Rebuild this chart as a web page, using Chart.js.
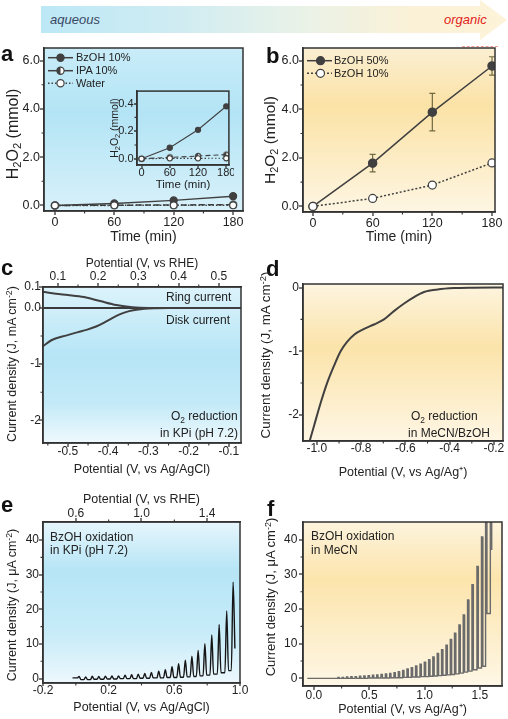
<!DOCTYPE html>
<html><head><meta charset="utf-8"><title>H2O2 figure</title>
<script src="https://cdn.jsdelivr.net/npm/chart.js@4.4.1/dist/chart.umd.min.js"></script>
<style>
html,body{margin:0;padding:0}
body{width:508px;height:719px;position:relative;overflow:hidden;background:#fff;font-family:"Liberation Sans",Arial,Helvetica,sans-serif;color:#222}
canvas{position:absolute;display:block}
.t{position:absolute;white-space:nowrap;line-height:1}
.L{font-weight:bold;font-size:22px;color:#111}
.lg{font-size:11px}
.an{font-size:12px}
.sb{font-size:70%;position:relative;top:0.3em}
.sp{font-size:70%;position:relative;top:-0.45em}
.yt{transform:translate(-50%,-50%) rotate(-90deg);color:#222}
</style></head><body>
<div style="position:absolute;left:41px;top:0;width:467px;height:40px;clip-path:polygon(0 6px,439px 6px,439px 0,466px 20px,439px 40px,439px 33px,0 33px);background:linear-gradient(90deg,#bce8f6 0%,#d0ecf2 30%,#e9f2e8 55%,#fbf1d6 80%,#fdf3d8 100%)"></div>
<div style="position:absolute;left:462px;top:46px;width:36px;border-top:1px dashed rgba(234,74,63,0.55)"></div>

<canvas id="cA" width="250" height="206" style="left:0;top:40px"></canvas>
<canvas id="cIn" width="126" height="108" style="left:108px;top:84px"></canvas>
<canvas id="cB" width="250" height="206" style="left:256px;top:40px"></canvas>
<canvas id="cC" width="250" height="234" style="left:0;top:246px"></canvas>
<canvas id="cD" width="250" height="234" style="left:256px;top:246px"></canvas>
<canvas id="cE" width="250" height="239" style="left:0;top:480px"></canvas>
<canvas id="cF" width="250" height="239" style="left:256px;top:480px"></canvas>

<div class="t" style="left:50px;top:13px;font-size:13px;font-style:italic;color:#3a4764">aqueous</div>
<div class="t" style="left:444px;top:13px;font-size:13px;font-style:italic;color:#e2231a">organic</div>

<div class="t L" style="left:1px;top:43px">a</div>
<div class="t L" style="left:266px;top:45px">b</div>
<div class="t L" style="left:1px;top:257px">c</div>
<div class="t L" style="left:266px;top:258px">d</div>
<div class="t L" style="left:1px;top:494px">e</div>
<div class="t L" style="left:267px;top:498px">f</div>

<!-- y-axis titles -->
<div class="t yt" style="left:13px;top:134px;font-size:16px">H<span class="sb">2</span>O<span class="sb">2</span> (mmol)</div>
<div class="t yt" style="left:114px;top:128px;font-size:10.5px">H<span class="sb">2</span>O<span class="sb">2</span> (mmol)</div>
<div class="t yt" style="left:270px;top:140px;font-size:15.5px">H<span class="sb">2</span>O<span class="sb">2</span> (mmol)</div>
<div class="t yt" style="left:12px;top:364px;font-size:12.5px">Current density (J, mA cm<span class="sp">-2</span>)</div>
<div class="t yt" style="left:266px;top:355px;font-size:13.4px">Current density (J, mA cm<span class="sp">-2</span>)</div>
<div class="t yt" style="left:12px;top:605px;font-size:12.5px">Current density (J, μA cm<span class="sp">-2</span>)</div>
<div class="t yt" style="left:271px;top:597px;font-size:13px">Current density (J, μA cm<span class="sp">-2</span>)</div>

<div class="t lg" style="left:76px;top:52px">BzOH 10%</div>
<div class="t lg" style="left:76px;top:65px">IPA 10%</div>
<div class="t lg" style="left:76px;top:78px">Water</div>
<div class="t lg" style="left:334px;top:55px">BzOH 50%</div>
<div class="t lg" style="left:334px;top:68px">BzOH 10%</div>

<div class="t an" style="left:166px;top:291px">Ring current</div>
<div class="t an" style="left:166px;top:314px">Disk current</div>
<div class="t an" style="left:171px;top:410px">O<span class="sb">2</span> reduction</div>
<div class="t an" style="left:160px;top:427px">in KPi (pH 7.2)</div>
<div class="t an" style="left:411px;top:410px">O<span class="sb">2</span> reduction</div>
<div class="t an" style="left:408px;top:427px">in MeCN/BzOH</div>
<div class="t an" style="left:50px;top:531px">BzOH oxidation</div>
<div class="t an" style="left:50px;top:544px">in KPi (pH 7.2)</div>
<div class="t an" style="left:311px;top:530px">BzOH oxidation</div>
<div class="t an" style="left:311px;top:544px">in MeCN</div>

<script>
// ---------------- data ----------------
const aTime = [0, 60, 120, 180];
const aBzOH10 = [0, 0.08, 0.21, 0.38];
const aIPA10 = [0, 0.01, 0.02, 0.03];
const aWater = [0, 0.003, 0.003, 0.004];
const aTimeTicks = [0, 60, 120, 180];
const aTimeMinor = [30, 90, 150];
const aYTicks = [0, 2, 4, 6];
const aYMinor = [1, 3, 5];
const inYTicks = [0, 0.2, 0.4];
const inYMinor = [0.1, 0.3];

const bTime = [0, 60, 120, 180];
const bBzOH50 = [0, 1.78, 3.88, 5.78];
const bBzOH50Err = [0, 0.36, 0.77, 0.38];
const bBzOH10 = [0, 0.33, 0.88, 1.79];

const cRingV = [-0.562, -0.53, -0.50, -0.46, -0.42, -0.38, -0.34, -0.30, -0.07];
const cRingJ = [0.077, 0.068, 0.062, 0.052, 0.033, 0.014, 0.003, 0, 0];
const cDiskV = [-0.562, -0.54, -0.503, -0.475, -0.454, -0.43, -0.41, -0.39, -0.37, -0.35, -0.33, -0.31, -0.28, -0.25, -0.07];
const cDiskJ = [-0.68, -0.57, -0.487, -0.43, -0.39, -0.33, -0.26, -0.18, -0.11, -0.06, -0.03, -0.012, -0.003, 0, 0];
const cXTicks = [-0.5, -0.4, -0.3, -0.2, -0.1];
const cXMinor = [-0.55, -0.45, -0.35, -0.25, -0.15];
const cRheTicks = [0.1, 0.2, 0.3, 0.4, 0.5];
const cRheMinor = [0.15, 0.25, 0.35, 0.45];
const cYTicks = [0.1, 0, -1, -2];
const cYMinor = [-0.5, -1.5];

const dV = [-1.036, -1.013, -0.983, -0.953, -0.923, -0.893, -0.863, -0.832, -0.787, -0.742, -0.697, -0.652, -0.606, -0.561, -0.516, -0.455, -0.38, -0.30, -0.159];
const dJ = [-2.45, -2.17, -1.81, -1.49, -1.23, -1.0, -0.85, -0.74, -0.65, -0.58, -0.50, -0.37, -0.25, -0.15, -0.07, -0.03, -0.008, -0.002, 0];
const dXTicks = [-1.0, -0.8, -0.6, -0.4, -0.2];
const dXMinor = [-0.9, -0.7, -0.5, -0.3];
const dYTicks = [0, -1, -2];
const dYMinor = [-0.5, -1.5];

// chopped-light LSV: potential of each light pulse, current at pulse top, dark current after pulse
const eStart = [-0.02, 0.2];
const ePeakV = [0.02,0.06,0.10,0.14,0.18,0.22,0.26,0.30,0.34,0.38,0.42,0.46,0.505,0.545,0.586,0.626,0.667,0.707,0.745,0.786,0.828,0.873,0.919,0.958];
const ePeakJ = [0.6,0.5,0.7,0.6,0.7,0.8,0.8,1.0,1.1,1.3,1.5,1.8,2.1,2.6,3.4,4.3,5.3,6.5,8.1,10.1,12.6,15.6,19.5,27.9];
const eBaseJ = [-0.3,-0.3,-0.2,-0.2,-0.1,-0.1,0,0,0,0.1,0.1,0.2,0.2,0.3,0.3,0.4,0.5,0.6,0.8,1.0,1.3,1.7,2.3,8.7];
const eXTicks = [-0.2, 0.2, 0.6, 1.0];
const eXMinor = [0.0, 0.4, 0.8];
const eRheTicks = [0.6, 1.0, 1.4];
const eRheMinor = [0.8, 1.2];
const eYTicks = [0, 10, 20, 30, 40];
const eYMinor = [5, 15, 25, 35];

const fStart = [-0.06, 0.0];
const fPeakV = [0.222,0.261,0.300,0.339,0.378,0.417,0.456,0.495,0.534,0.573,0.612,0.651,0.690,0.729,0.768,0.807,0.846,0.885,0.924,0.964,1.003,1.042,1.080,1.120,1.159,1.199,1.238,1.276,1.316,1.355,1.394,1.434,1.479,1.520,1.557,1.600];
const fPeakJ = [0.3,0.3,0.4,0.45,0.5,0.6,0.7,0.8,0.9,1.0,1.1,1.25,1.4,1.6,1.9,2.3,2.7,3.1,3.6,4.1,4.7,5.4,6.2,7.2,8.3,9.6,11.2,13.0,15.4,18.3,22.6,27.0,32.3,40.8,60,70];
const fBaseJ = [0,0,0,0,0,0,0,0.1,0.1,0.1,0.1,0.1,0.2,0.2,0.2,0.3,0.3,0.4,0.4,0.5,0.5,0.6,0.7,0.8,0.9,1.0,1.1,1.3,1.5,1.8,2.1,2.5,3.0,3.5,18.7,37];
const fXTicks = [0.0, 0.5, 1.0, 1.5];
const fXMinor = [0.25, 0.75, 1.25];
const fYTicks = [0, 10, 20, 30, 40];
const fYMinor = [5, 15, 25, 35];

// ---------------- helpers ----------------
const FONT = '"Liberation Sans", Arial, Helvetica, sans-serif';
const DARK = '#404040';
Chart.defaults.font.family = FONT;
Chart.defaults.color = '#222';

const C_BREAK = 0.1346; // fraction of panel c height used by the 0..0.1 segment
class BrokenScale extends Chart.LinearScale {
  getPixelForValue(v) {
    const mid = this.top + C_BREAK * (this.bottom - this.top);
    if (v >= 0) return mid - (v / this.max) * (mid - this.top);
    return mid + (v / this.min) * (this.bottom - mid);
  }
  getValueForPixel(p) {
    const mid = this.top + C_BREAK * (this.bottom - this.top);
    return p <= mid ? (mid - p) / (mid - this.top) * this.max : (p - mid) / (this.bottom - mid) * this.min;
  }
}
BrokenScale.id = 'broken';
BrokenScale.defaults = Chart.LinearScale.defaults;
Chart.register(BrokenScale);

function xy(xs, ys) { return xs.map((x, i) => ({x: x, y: ys[i]})); }
function pulsesRound(v, peak, base, start, w) {
  const pts = [{x: start[0], y: start[1]}];
  let prev = start[1];
  v.forEach((p, i) => { pts.push({x: p - w, y: prev}); pts.push({x: p, y: peak[i]}); pts.push({x: p + w, y: base[i]}); prev = base[i]; });
  return pts;
}
function pulsesFlat(v, peak, base, start, w, d) {
  const pts = [{x: start[0], y: start[1]}];
  let prev = start[1];
  v.forEach((p, i) => { pts.push({x: p - w, y: prev}); pts.push({x: p - w + d, y: peak[i]}); pts.push({x: p + w - d, y: peak[i]}); pts.push({x: p + w, y: base[i]}); prev = base[i]; });
  return pts;
}

function sc(o) {
  const horiz = (o.pos === 'bottom' || o.pos === 'top');
  return {
    type: o.type || 'linear', position: o.pos, min: o.min, max: o.max,
    afterBuildTicks: s => { s.ticks = o.major.map(v => ({value: v})); },
    afterFit: s => { if (horiz) s.height = o.fit; else s.width = o.fit; },
    ticks: {autoSkip: false, maxRotation: 0, minRotation: 0, padding: o.pad || 0, color: '#222',
      font: {family: FONT, size: o.size || 12}, callback: v => o.fmt(v)},
    grid: {display: true, drawOnChartArea: !!o.zero, drawTicks: true, tickLength: o.tl || 4,
      tickColor: '#333', tickWidth: 1.3, lineWidth: 2,
      color: c => (o.zero && c.tick && c.tick.value === 0) ? '#3a3a3a' : 'rgba(0,0,0,0)'},
    border: {display: true, color: '#333', width: 1.5},
    title: {display: !!o.title, text: o.title, color: '#222', font: {family: FONT, size: o.tsize || 12},
      padding: {top: o.tpad || 0, bottom: o.tpad || 0}}
  };
}

function drawMarker(ctx, x, y, r, style) {
  ctx.save();
  ctx.lineWidth = 1.2; ctx.strokeStyle = DARK; ctx.setLineDash([]);
  ctx.beginPath(); ctx.arc(x, y, r, 0, 2 * Math.PI);
  ctx.fillStyle = style === 'fill' ? DARK : '#fff'; ctx.fill();
  if (style === 'half') { ctx.beginPath(); ctx.arc(x, y, r, Math.PI / 2, 1.5 * Math.PI); ctx.closePath(); ctx.fillStyle = DARK; ctx.fill(); }
  ctx.beginPath(); ctx.arc(x, y, r, 0, 2 * Math.PI); ctx.stroke();
  ctx.restore();
}
function halfMarkerImage(r) {
  const c = document.createElement('canvas');
  const s = Math.ceil(2 * r + 4); c.width = s; c.height = s;
  drawMarker(c.getContext('2d'), s / 2, s / 2, r, 'half');
  return c;
}

function extras(cfg) {
  return {
    id: 'extras',
    beforeDraw(chart) {
      const a = chart.chartArea, ctx = chart.ctx;
      if (cfg.bg) {
        const g = ctx.createLinearGradient(0, a.top, 0, a.bottom);
        cfg.bg.forEach(s => g.addColorStop(s[0], s[1]));
        ctx.save(); ctx.fillStyle = g; ctx.fillRect(a.left, a.top, a.right - a.left, a.bottom - a.top); ctx.restore();
      }
    },
    beforeDatasetsDraw(chart) { if (cfg.err) cfg.err(chart); },
    afterDraw(chart) {
      const a = chart.chartArea, ctx = chart.ctx;
      ctx.save();
      ctx.strokeStyle = '#333'; ctx.lineWidth = 1.5;
      ctx.strokeRect(a.left, a.top, a.right - a.left, a.bottom - a.top);
      ctx.lineWidth = 1.1;
      Object.keys(cfg.minor || {}).forEach(id => {
        const s = chart.scales[id];
        ctx.beginPath();
        cfg.minor[id].forEach(v => {
          const p = s.getPixelForValue(v);
          if (s.position === 'bottom') { ctx.moveTo(p, s.top); ctx.lineTo(p, s.top + 2.5); }
          else if (s.position === 'top') { ctx.moveTo(p, s.bottom); ctx.lineTo(p, s.bottom - 2.5); }
          else { ctx.moveTo(s.right, p); ctx.lineTo(s.right - 2.5, p); }
        });
        ctx.stroke();
      });
      ctx.restore();
      if (cfg.legend) cfg.legend(ctx, a);
    }
  };
}

function make(id, datasets, scales, padding, cfg) {
  return new Chart(document.getElementById(id), {
    type: 'line',
    data: {datasets: datasets},
    options: {responsive: false, animation: false, events: [],
      layout: {padding: padding},
      plugins: {legend: {display: false}, tooltip: {enabled: false}},
      scales: scales},
    plugins: [extras(cfg)]
  });
}

const BLUE_A = [[0, '#c9ecf8'], [0.4, '#b3e4f5'], [1, '#d8f1fa']];
const BLUE_C = [[0, '#dcf3fb'], [0.45, '#b6e5f6'], [0.75, '#c4eaf8'], [1, '#eef9fd']];
const BLUE_E = [[0, '#e6f6fc'], [0.3, '#b6e5f6'], [0.7, '#c8ecf8'], [1, '#edf8fd']];
const YEL_B = [[0, '#fbefd2'], [0.35, '#fbe2a6'], [1, '#fef6e3']];
const YEL_D = [[0, '#fdf5e0'], [0.4, '#fbe3aa'], [1, '#fef6e4']];
const YEL_F = [[0, '#fdf4dd'], [0.35, '#fce4ac'], [1, '#fef7e6']];

const fmt1 = v => v.toFixed(1);
const fmtInt = v => String(Math.round(v));

// ---------------- panel a ----------------
const halfBig = halfMarkerImage(3.4), halfSmall = halfMarkerImage(2.6);
make('cA', [
  {data: xy(aTime, aWater), borderColor: DARK, borderWidth: 1.5, borderDash: [1.5, 2], pointRadius: 3.4, pointBackgroundColor: '#fff', pointBorderColor: DARK, pointBorderWidth: 1.2, clip: 0},
  {data: xy(aTime, aIPA10), borderColor: DARK, borderWidth: 1.5, borderDash: [6, 3], pointStyle: halfBig, pointRadius: 3.4, clip: 0},
  {data: xy(aTime, aBzOH10), borderColor: DARK, borderWidth: 1.5, pointRadius: 3.4, pointBackgroundColor: DARK, pointBorderColor: DARK, clip: 0}
], {
  x: sc({pos: 'bottom', min: -11, max: 190, major: aTimeTicks, fmt: fmtInt, fit: 35, size: 12.5, tl: 4, pad: 0, title: 'Time (min)', tsize: 14, tpad: 0}),
  y: sc({pos: 'left', min: -0.23, max: 6.52, major: aYTicks, fmt: fmt1, fit: 44, size: 12.5, tl: 4, pad: 0})
}, {top: 8, right: 7, left: 0, bottom: 0}, {
  bg: BLUE_A, minor: {x: aTimeMinor, y: aYMinor},
  legend: ctx => {
    [[17.7, [], 'fill'], [30.7, [], 'half'], [43.3, [1.5, 2], 'open']].forEach(it => {
      ctx.save(); ctx.strokeStyle = DARK; ctx.lineWidth = 1.5; ctx.setLineDash(it[1]);
      ctx.beginPath(); ctx.moveTo(48, it[0]); ctx.lineTo(73, it[0]); ctx.stroke(); ctx.restore();
      drawMarker(ctx, 60.5, it[0], 3.6, it[2]);
    });
  }
});

make('cIn', [
  {data: xy(aTime, aWater), borderColor: DARK, borderWidth: 1.1, borderDash: [1.5, 2], pointRadius: 2.6, pointBackgroundColor: '#fff', pointBorderColor: DARK, pointBorderWidth: 1.1, clip: 0},
  {data: xy(aTime, aIPA10), borderColor: DARK, borderWidth: 1.1, borderDash: [5, 3], pointStyle: halfSmall, pointRadius: 2.6, clip: 0},
  {data: xy(aTime, aBzOH10), borderColor: DARK, borderWidth: 1.1, pointRadius: 2.6, pointBackgroundColor: DARK, pointBorderColor: DARK, clip: 0}
], {
  x: sc({pos: 'bottom', min: -9.6, max: 185.6, major: aTimeTicks, fmt: fmtInt, fit: 27, size: 11, tl: 3, pad: -2, title: 'Time (min)', tsize: 11.5, tpad: 0}),
  y: sc({pos: 'left', min: -0.045, max: 0.49, major: inYTicks, fmt: fmt1, fit: 29, size: 11, tl: 3, pad: 0.5})
}, {top: 6, right: 4, left: 0, bottom: 0}, {minor: {y: inYMinor}});

// ---------------- panel b ----------------
make('cB', [
  {data: xy(bTime, bBzOH10), borderColor: DARK, borderWidth: 1.5, borderDash: [2, 2], pointRadius: 4, pointBackgroundColor: '#fff', pointBorderColor: DARK, pointBorderWidth: 1.2, clip: 0},
  {data: xy(bTime, bBzOH50), borderColor: DARK, borderWidth: 1.5, pointRadius: 4, pointBackgroundColor: DARK, pointBorderColor: DARK, clip: 0}
], {
  x: sc({pos: 'bottom', min: -10, max: 183, major: aTimeTicks, fmt: fmtInt, fit: 34, size: 12.5, tl: 4, pad: 0, title: 'Time (min)', tsize: 14, tpad: 0}),
  y: sc({pos: 'left', min: -0.23, max: 6.52, major: aYTicks, fmt: fmt1, fit: 47, size: 12.5, tl: 4, pad: 0})
}, {top: 8, right: 11, left: 0, bottom: 0}, {
  bg: YEL_B, minor: {x: aTimeMinor, y: aYMinor},
  err: chart => {
    const xs = chart.scales.x, ys = chart.scales.y, ctx = chart.ctx;
    ctx.save(); ctx.strokeStyle = '#6f6a40'; ctx.lineWidth = 1.2; ctx.beginPath();
    bTime.forEach((t, i) => {
      if (!bBzOH50Err[i]) return;
      const x = xs.getPixelForValue(t);
      const y1 = ys.getPixelForValue(bBzOH50[i] - bBzOH50Err[i]), y2 = ys.getPixelForValue(bBzOH50[i] + bBzOH50Err[i]);
      ctx.moveTo(x, y1); ctx.lineTo(x, y2);
      ctx.moveTo(x - 3, y1); ctx.lineTo(x + 3, y1); ctx.moveTo(x - 3, y2); ctx.lineTo(x + 3, y2);
    });
    ctx.stroke(); ctx.restore();
  },
  legend: ctx => {
    [[20.7, [], 'fill'], [33.3, [2, 2], 'open']].forEach(it => {
      ctx.save(); ctx.strokeStyle = DARK; ctx.lineWidth = 1.5; ctx.setLineDash(it[1]);
      ctx.beginPath(); ctx.moveTo(51, it[0]); ctx.lineTo(76, it[0]); ctx.stroke(); ctx.restore();
      drawMarker(ctx, 64.5, it[0], 4, it[2]);
    });
  }
});

// ---------------- panel c ----------------
make('cC', [
  {data: xy(cRingV, cRingJ), borderColor: DARK, borderWidth: 2, pointRadius: 0, cubicInterpolationMode: 'monotone', clip: 0},
  {data: xy(cDiskV, cDiskJ), borderColor: DARK, borderWidth: 2, pointRadius: 0, cubicInterpolationMode: 'monotone', clip: 0}
], {
  x: sc({pos: 'bottom', min: -0.562, max: -0.07, major: cXTicks, fmt: fmt1, fit: 37, size: 12, tl: 4, pad: -3, title: 'Potential (V, vs Ag/AgCl)', tsize: 12.5, tpad: 2.5}),
  x2: sc({pos: 'top', min: 0.063, max: 0.555, major: cRheTicks, fmt: fmt1, fit: 41, size: 12, tl: 4, pad: -1.2, title: 'Potential (V, vs RHE)', tsize: 12, tpad: 10.8}),
  y: sc({type: 'broken', pos: 'left', min: -2.405, max: 0.1, major: cYTicks, fmt: v => (v === 0 ? '0.0' : (v > 0 ? v.toFixed(1) : String(v))), fit: 43, size: 12, tl: 4, pad: -2, zero: true})
}, {top: 0, right: 9, left: 0, bottom: 0}, {bg: BLUE_C, minor: {x: cXMinor, x2: cRheMinor, y: cYMinor}});

// ---------------- panel d ----------------
make('cD', [
  {data: xy(dV, dJ), borderColor: DARK, borderWidth: 2, pointRadius: 0, cubicInterpolationMode: 'monotone', clip: 0}
], {
  x: sc({pos: 'bottom', min: -1.063, max: -0.159, major: dXTicks, fmt: fmt1, fit: 39, size: 12, tl: 4, pad: -3.9, title: 'Potential (V, vs Ag/Ag⁺)', tsize: 12.5, tpad: 0}),
  y: sc({pos: 'left', min: -2.41, max: 0.056, major: dYTicks, fmt: fmtInt, fit: 47, size: 12, tl: 4, pad: 0})
}, {top: 38, right: 3, left: 0, bottom: 0}, {bg: YEL_D, minor: {x: dXMinor, y: dYMinor}});

// ---------------- panel e ----------------
make('cE', [
  {data: pulsesRound(ePeakV, ePeakJ, eBaseJ, eStart, 0.011), borderColor: '#151515', borderWidth: 1.4, pointRadius: 0, cubicInterpolationMode: 'monotone', clip: 0}
], {
  x: sc({pos: 'bottom', min: -0.2, max: 1.0, major: eXTicks, fmt: fmt1, fit: 36, size: 12, tl: 3, pad: -3, title: 'Potential (V, vs Ag/AgCl)', tsize: 12.5, tpad: 3.5}),
  x2: sc({pos: 'top', min: 0.4, max: 1.6, major: eRheTicks, fmt: fmt1, fit: 42, size: 12, tl: 4, pad: -2.5, title: 'Potential (V, vs RHE)', tsize: 12.5, tpad: 12}),
  y: sc({pos: 'left', min: -1.27, max: 45.2, major: eYTicks, fmt: fmtInt, fit: 43, size: 12, tl: 4, pad: 0})
}, {top: 0, right: 10, left: 0, bottom: 0}, {bg: BLUE_E, minor: {x: eXMinor, x2: eRheMinor, y: eYMinor}});

// ---------------- panel f ----------------
make('cF', [
  {data: pulsesFlat(fPeakV, fPeakJ, fBaseJ, fStart, 0.007, 0.0015), borderColor: '#6b6b6b', borderWidth: 1.4, pointRadius: 0, clip: 0}
], {
  x: sc({pos: 'bottom', min: -0.099, max: 1.70, major: fXTicks, fmt: fmt1, fit: 33, size: 12, tl: 4, pad: -1.2, title: 'Potential (V, vs Ag/Ag⁺)', tsize: 12.5, tpad: 1.5}),
  y: sc({pos: 'left', min: -2.2, max: 45.1, major: fYTicks, fmt: fmtInt, fit: 47, size: 12, tl: 4, pad: 1.7})
}, {top: 42, right: 4, left: 0, bottom: 0}, {bg: YEL_F, minor: {x: fXMinor, y: fYMinor}});
</script>
</body></html>
